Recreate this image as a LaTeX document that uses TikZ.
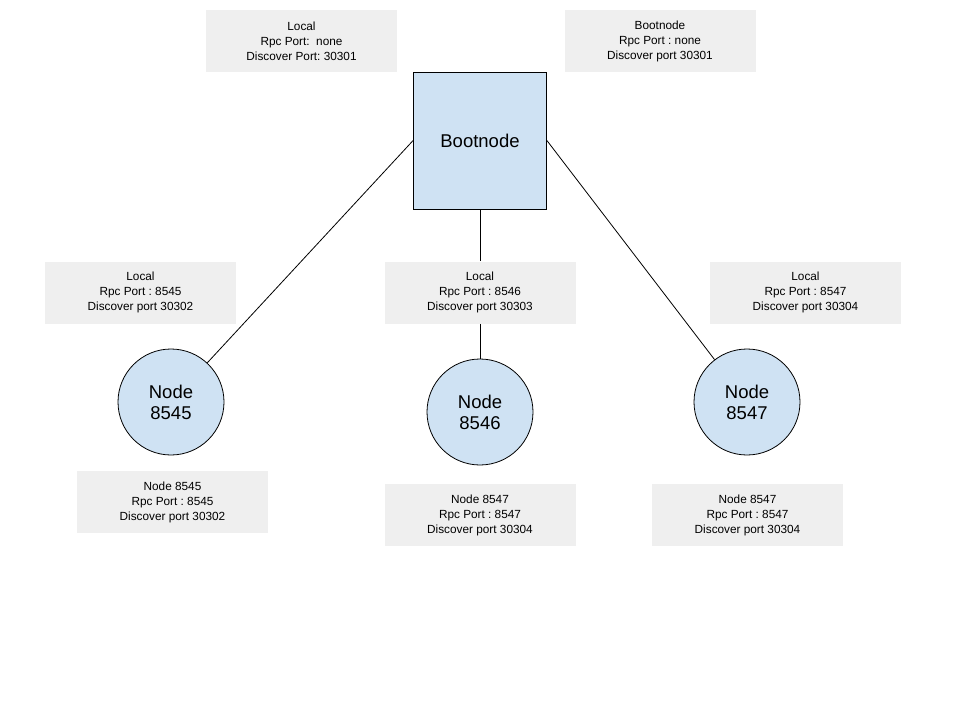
\documentclass[tikz,border=0pt]{standalone}
\usepackage{fontspec}
\setmainfont{Liberation Sans}
\usetikzlibrary{positioning}
\definecolor{infogray}{HTML}{EFEFEF}
\definecolor{nodeblue}{HTML}{CFE2F3}
\frenchspacing

\begin{document}
\begin{tikzpicture}[x=1pt,y=-1pt,line width=0.8pt]
	\tikzstyle{info} = [fill=infogray, minimum width=191pt, minimum height=62pt, align=center, inner sep=0pt, font=\fontsize{11.8}{15}\selectfont]
	\tikzstyle{peer} = [draw, circle, fill=nodeblue, minimum size=106pt, inner sep=0pt, align=center, font=\fontsize{18.5}{21}\selectfont]
	\useasboundingbox (0,0) rectangle (960,720);

	\node [draw, rectangle, fill=nodeblue, minimum width=133pt, minimum height=137pt, font=\fontsize{18.5}{21}\selectfont] (boot) at (480,140.5) {Bootnode};
	\node [info] (infolocal) at (301.5,41) {Local\\Rpc Port:~ none\\Discover Port: 30301};
	\node [info] (infoboot) at (660,41) {Bootnode\\Rpc Port : none\\Discover port 30301};

	\node [peer] (n8545) at (171,402) {Node\\8545};
	\node [peer] (n8546) at (480,412) {Node\\8546};
	\node [peer] (n8547) at (747,402) {Node\\8547};

	\node [info] (local8545) at (140.5,292.5) {Local\\Rpc Port : 8545\\Discover port 30302};
	\node [info] (local8546) at (480,292.5) {Local\\Rpc Port : 8546\\Discover port 30303};
	\node [info] (local8547) at (805.5,292.5) {Local\\Rpc Port : 8547\\Discover port 30304};

	\node [info] (peer8545) at (172.5,502) {Node 8545\\Rpc Port : 8545\\Discover port 30302};
	\node [info] (peer8546) at (480,515) {Node 8547\\Rpc Port : 8547\\Discover port 30304};
	\node [info] (peer8547) at (747.5,515) {Node 8547\\Rpc Port : 8547\\Discover port 30304};

	\draw [-] (boot.west) -- (n8545);
	\draw [-] (boot.east) -- (n8547);
	\draw [-] (boot.south) -- (local8546.north);
	\draw [-] (local8546.south) -- (n8546.north);

\end{tikzpicture}
\end{document}
